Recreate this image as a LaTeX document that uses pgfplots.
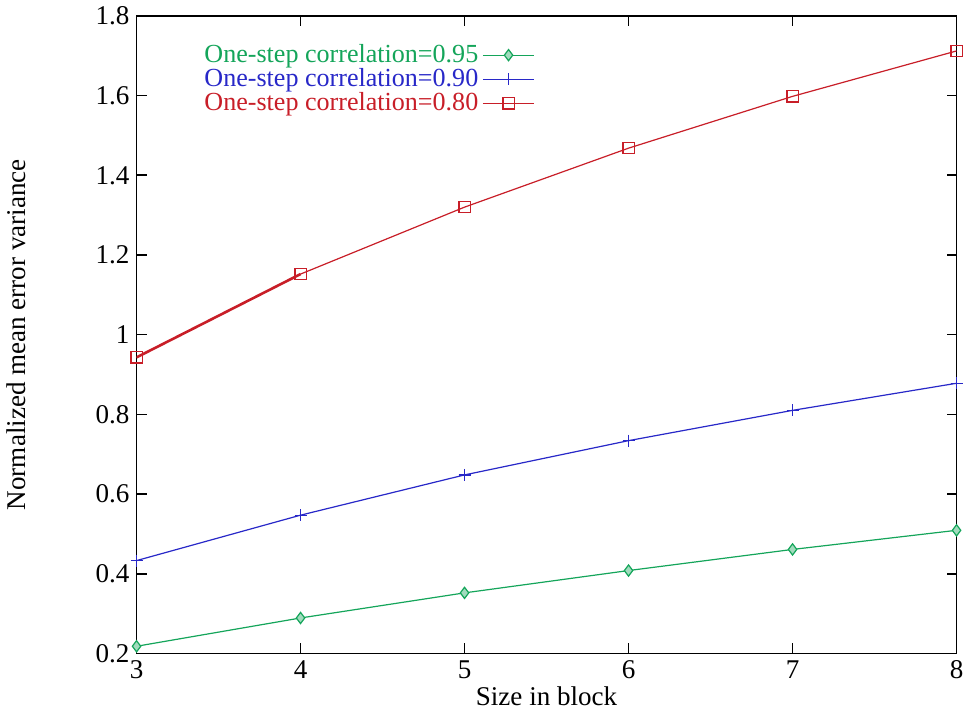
\documentclass[border=0pt]{standalone}
\usepackage{pgfplots}
\pgfplotsset{compat=1.18}
\usepackage{fontspec}
\setmainfont{Liberation Serif}
\definecolor{cg}{RGB}{20,165,90}
\definecolor{cb}{RGB}{40,40,200}
\definecolor{cr}{RGB}{200,30,40}
\begin{document}
\rmfamily
\begin{tikzpicture}[font=\rmfamily]
\begin{axis}[
  scale only axis,
  width=409pt, height=318pt,
  xmin=3, xmax=8, ymin=0.2, ymax=1.8,
  xtick={3,4,5,6,7,8},
  xticklabels={3,4,5,6,7,8},
  ytick={0.2,0.4,0.6,0.8,1,1.2,1.4,1.6,1.8},
  yticklabels={0.2,0.4,0.6,0.8,1,1.2,1.4,1.6,1.8},
  tick align=inside,
  major tick length=5pt,
  every tick/.style={black, line width=0.8pt},
  axis line style={line width=0.9pt},
  font=\rmfamily\fontsize{13.5}{15}\selectfont,
  tick label style={font=\rmfamily\fontsize{13.5}{15}\selectfont},
  label style={font=\rmfamily\fontsize{13.5}{15}\selectfont},
  /pgf/number format/assume math mode=true,
  xlabel={Size in block},
  ylabel={Normalized mean error variance},
  xlabel style={yshift=3pt},
  ylabel style={yshift=28pt},
  legend style={draw=none, fill=none, at={(0.075,0.965)}, anchor=north west,
    row sep=-2.5pt, inner sep=1pt, font=\rmfamily\fontsize{13pt}{14pt}\selectfont,
    /tikz/every odd column/.append style={inner xsep=5pt}},
  legend plot pos=right,
  legend cell align=left,
  legend image code/.code={\draw[mark repeat=2,mark phase=2] plot coordinates {(0cm,0cm)(0.45cm,0cm)(0.9cm,0cm)};},
]
\addplot[cg, line width=0.6pt, mark=diamond*, mark size=2.8pt, mark options={fill=cg!40, draw=cg}]
  coordinates {(3,0.218) (4,0.289) (5,0.352) (6,0.408) (7,0.461) (8,0.509)};
\addlegendentry{\textcolor{cg}{One-step correlation=0.95}}
\addplot[cb, line width=0.6pt, mark=+, mark size=3pt]
  coordinates {(3,0.433) (4,0.547) (5,0.648) (6,0.734) (7,0.81) (8,0.878)};
\addlegendentry{\textcolor{cb}{One-step correlation=0.90}}
\addplot[cr, line width=0.6pt, mark=square, mark size=2.8pt]
  coordinates {(3,0.943) (4,1.152) (5,1.32) (6,1.468) (7,1.598) (8,1.712)};
\addlegendentry{\textcolor{cr}{One-step correlation=0.80}}
\addplot[cr, line width=1.3pt, forget plot] coordinates {(3,0.943) (4,1.152)};
\end{axis}
\end{tikzpicture}
\end{document}
